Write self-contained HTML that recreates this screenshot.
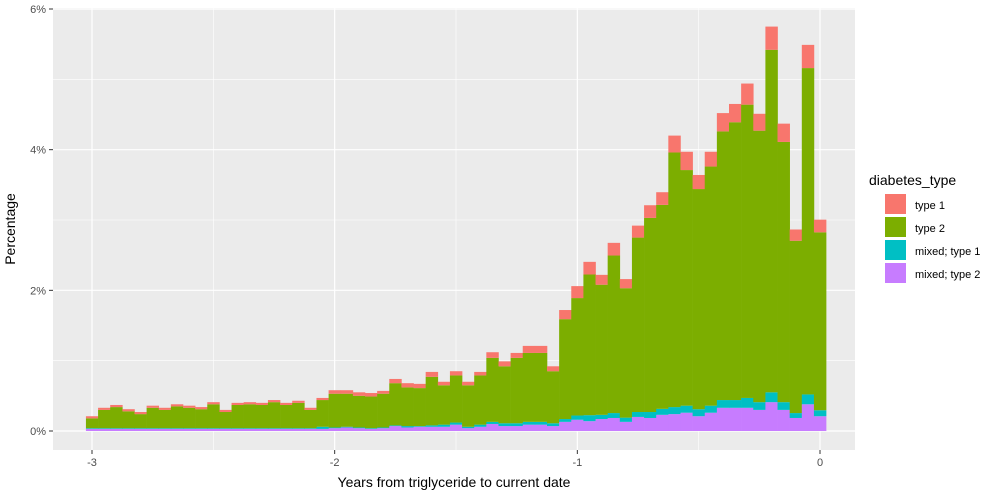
<!DOCTYPE html>
<html><head><meta charset="utf-8"><style>
body{margin:0;background:#fff;font-family:"Liberation Sans",Arial,sans-serif}
svg text{font-family:"Liberation Sans",Arial,sans-serif}
</style></head><body>
<svg id="chart" width="1000" height="495">
<rect x="53" y="8" width="802" height="442" fill="#EBEBEB"/>
<g id="grid"></g><g id="bars"></g><g id="axes"></g>
<text x="454" y="487" font-size="14" text-anchor="middle" fill="#000">Years from triglyceride to current date</text>
<text transform="translate(15,229) rotate(-90)" font-size="14" text-anchor="middle" fill="#000">Percentage</text>
<g>
<text x="869" y="185" font-size="14" fill="#000">diabetes_type</text>
<rect x="885" y="194" width="21" height="20" fill="#F8766D"/>
<text x="915" y="209" font-size="11" fill="#000">type 1</text>
<rect x="885" y="217" width="21" height="20" fill="#7CAE00"/>
<text x="915" y="232" font-size="11" fill="#000">type 2</text>
<rect x="885" y="240" width="21" height="20" fill="#00BFC4"/>
<text x="915" y="255" font-size="11" fill="#000">mixed; type 1</text>
<rect x="885" y="263" width="21" height="20" fill="#C77CFF"/>
<text x="915" y="278" font-size="11" fill="#000">mixed; type 2</text>
</g>
</svg>
<script>
const binStarts = [];
for (let i = 0; i < 61; i++) binStarts.push(-3 + 0.05 * i);
const mixedType2 = [.03,.03,.03,.03,.03,.03,.03,.03,.03,.03,.03,.03,.03,.03,.03,.03,.03,.03,.03,.03,
 .04,.05,.04,.03,.04,.07,.05,.06,.06,.06,.09,.04,.06,.10,.07,.07,.09,.09,.07,.13,
 .16,.14,.17,.185,.13,.20,.185,.23,.24,.26,.21,.26,.33,.33,.33,.30,.41,.30,.185,.38,.21];
const mixedType1 = [.01,.01,.01,.01,.01,.01,.01,.01,.01,.01,.01,.01,.01,.01,.01,.01,.01,.01,.01,.03,
 .01,.01,.01,.01,.01,.01,.02,.01,.02,.03,.03,.02,.03,.03,.04,.04,.04,.04,.04,.04,
 .06,.085,.06,.07,.06,.07,.085,.085,.10,.10,.10,.10,.11,.11,.14,.11,.14,.11,.07,.14,.085];
const type2 = [.14,.26,.30,.24,.20,.29,.26,.31,.29,.27,.34,.23,.33,.34,.33,.37,.33,.36,.26,.38,
 .48,.47,.45,.45,.48,.60,.55,.54,.69,.56,.67,.59,.70,.91,.81,.93,.98,.98,.74,1.42,
 1.67,2.00,1.85,2.24,1.84,2.48,2.76,2.90,3.62,3.35,3.13,3.40,3.82,3.95,4.17,3.86,4.87,3.70,2.45,4.64,2.53];
const type1 = [.03,.03,.03,.03,.03,.03,.03,.03,.03,.03,.03,.03,.03,.03,.03,.03,.03,.03,.03,.03,
 .05,.05,.05,.05,.04,.06,.06,.06,.07,.05,.06,.05,.05,.08,.07,.07,.10,.10,.07,.13,
 .17,.18,.14,.18,.13,.17,.18,.18,.24,.26,.20,.21,.26,.26,.30,.24,.33,.26,.16,.33,.18];
const yTicks = [0,2,4,6];
const yTickLabels = ["0%","2%","4%","6%"];
const xTicks = [-3,-2,-1,0];
const xTickLabels = ["-3","-2","-1","0"];
const binWidth = 0.05;

const NS = "http://www.w3.org/2000/svg";
const xs = v => 92 + (v + 3) * (820 - 92) / 3;
const ys = v => 431 - v * (431 - 9) / 6;
function mk(tag, attrs, parent){const e=document.createElementNS(NS,tag);for(const k in attrs)e.setAttribute(k,attrs[k]);parent.appendChild(e);return e;}
const grid=document.getElementById('grid'), bars=document.getElementById('bars'), axes=document.getElementById('axes');
[1,3,5].forEach(v=>{const l=mk('line',{x1:53,x2:855,y1:ys(v),y2:ys(v),stroke:'#fff','stroke-width':0.6},grid);

});
[-2.5,-1.5,-0.5].forEach(v=>{const l=mk('line',{x1:xs(v),x2:xs(v),y1:8,y2:450,stroke:'#fff','stroke-width':0.6},grid);

});
yTicks.forEach((v,i)=>{const l=mk('line',{x1:53,x2:855,y1:ys(v),y2:ys(v),stroke:'#fff','stroke-width':1.2},grid);


const t=mk('line',{x1:49,x2:53,y1:ys(v),y2:ys(v),stroke:'#333','stroke-width':1},axes);


const tx=mk('text',{x:46,y:ys(v)+4,'font-size':11,'text-anchor':'end',fill:'#4D4D4D'},axes);
tx.textContent=yTickLabels[i];

});
xTicks.forEach((v,i)=>{const l=mk('line',{x1:xs(v),x2:xs(v),y1:8,y2:450,stroke:'#fff','stroke-width':1.2},grid);


const t=mk('line',{x1:xs(v),x2:xs(v),y1:450,y2:454,stroke:'#333','stroke-width':1},axes);


const tx=mk('text',{x:xs(v),y:466,'font-size':11,'text-anchor':'middle',fill:'#4D4D4D'},axes);
tx.textContent=xTickLabels[i];

});
const series=[[mixedType2,'#C77CFF','mixed-type2'],[mixedType1,'#00BFC4','mixed-type1'],[type2,'#7CAE00','type2'],[type1,'#F8766D','type1']];
binStarts.forEach((c,i)=>{let base=0;const x0=xs(c-binWidth/2),x1=xs(c+binWidth/2);
series.forEach(s=>{const v=s[0][i];const r=mk('rect',{x:x0,width:x1-x0+0.3,y:ys(base+v),height:ys(base)-ys(base+v),fill:s[1]},bars);


base+=v;});});
</script>
</body></html>
